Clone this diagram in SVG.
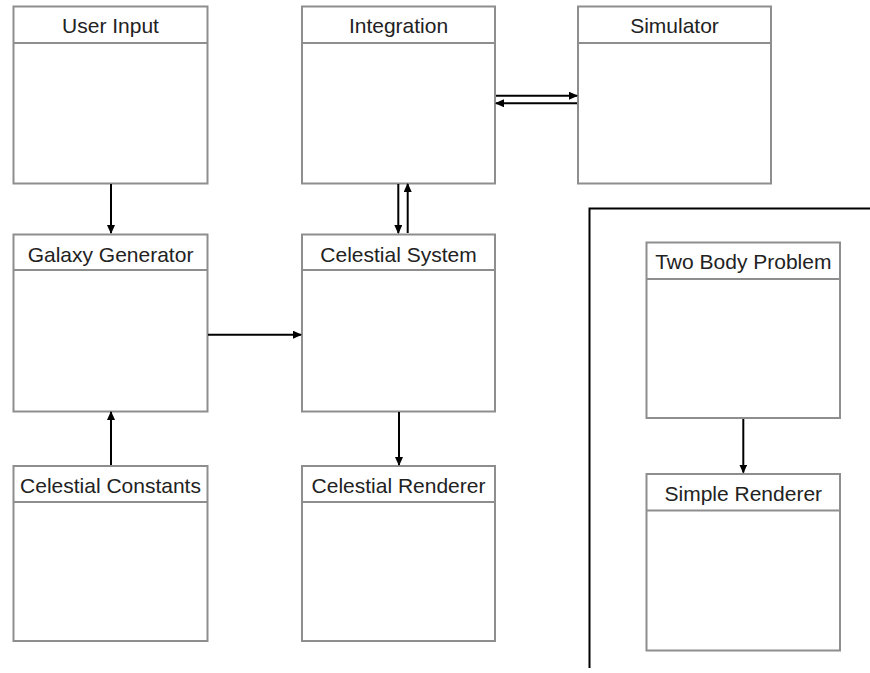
<svg xmlns="http://www.w3.org/2000/svg" width="870" height="673" viewBox="0 0 870 673">
<style>
.box{fill:#fff;stroke:#8e8e8e;stroke-width:2}
.sep{stroke:#8e8e8e;stroke-width:2}
.lbl{font-family:"Liberation Sans",Arial,sans-serif;font-size:21px;fill:#222;text-anchor:middle}
.conn{stroke:#000;stroke-width:2;fill:none;marker-end:url(#ah)}
</style>
<defs>
<marker id="ah" markerWidth="10" markerHeight="8" refX="8" refY="4" orient="auto" markerUnits="userSpaceOnUse">
<path d="M0,0 L9,4 L0,8 z" fill="#000"/>
</marker>
</defs>
<rect x="0" y="0" width="870" height="673" fill="#fff"/>
<g id="boundary">
<path d="M870,208.5 H589.5 V668" fill="none" stroke="#000" stroke-width="2"/>
</g>
<g id="user-input">
<rect class="box" x="13.5" y="6.5" width="194" height="177"/>
<line class="sep" x1="13.5" y1="43" x2="207.5" y2="43"/>
<text class="lbl" x="110.5" y="33">User Input</text>
</g>
<g id="integration">
<rect class="box" x="302" y="6.5" width="193" height="177"/>
<line class="sep" x1="302" y1="43" x2="495" y2="43"/>
<text class="lbl" x="398.5" y="33">Integration</text>
</g>
<g id="simulator">
<rect class="box" x="578" y="6.5" width="193" height="177"/>
<line class="sep" x1="578" y1="43" x2="771" y2="43"/>
<text class="lbl" x="674.5" y="33">Simulator</text>
</g>
<g id="galaxy-generator">
<rect class="box" x="13.5" y="234.5" width="194" height="177"/>
<line class="sep" x1="13.5" y1="270" x2="207.5" y2="270"/>
<text class="lbl" x="110.5" y="262">Galaxy Generator</text>
</g>
<g id="celestial-system">
<rect class="box" x="302" y="234.5" width="193" height="177"/>
<line class="sep" x1="302" y1="270" x2="495" y2="270"/>
<text class="lbl" x="398.5" y="262">Celestial System</text>
</g>
<g id="celestial-constants">
<rect class="box" x="13.5" y="466" width="194" height="175"/>
<line class="sep" x1="13.5" y1="502" x2="207.5" y2="502"/>
<text class="lbl" x="110.5" y="493">Celestial Constants</text>
</g>
<g id="celestial-renderer">
<rect class="box" x="302" y="466" width="193" height="175"/>
<line class="sep" x1="302" y1="502" x2="495" y2="502"/>
<text class="lbl" x="398.5" y="493">Celestial Renderer</text>
</g>
<g id="two-body-problem">
<rect class="box" x="646.5" y="242.5" width="193.5" height="175.5"/>
<line class="sep" x1="646.5" y1="279" x2="840" y2="279"/>
<text class="lbl" x="743.3" y="269">Two Body Problem</text>
</g>
<g id="simple-renderer">
<rect class="box" x="646.5" y="474" width="193.5" height="176.5"/>
<line class="sep" x1="646.5" y1="510.5" x2="840" y2="510.5"/>
<text class="lbl" x="743.3" y="501">Simple Renderer</text>
</g>
<g id="connectors">
<line class="conn" x1="111" y1="184" x2="111" y2="233"/>
<line class="conn" x1="496" y1="95.7" x2="577" y2="95.7"/>
<line class="conn" x1="577" y1="103.3" x2="496" y2="103.3"/>
<line class="conn" x1="398.3" y1="184" x2="398.3" y2="233"/>
<line class="conn" x1="407.7" y1="233" x2="407.7" y2="184"/>
<line class="conn" x1="208" y1="334.7" x2="301" y2="334.7"/>
<line class="conn" x1="111" y1="465" x2="111" y2="412"/>
<line class="conn" x1="399" y1="412" x2="399" y2="465"/>
<line class="conn" x1="743.3" y1="419" x2="743.3" y2="472.5"/>
</g>
</svg>
